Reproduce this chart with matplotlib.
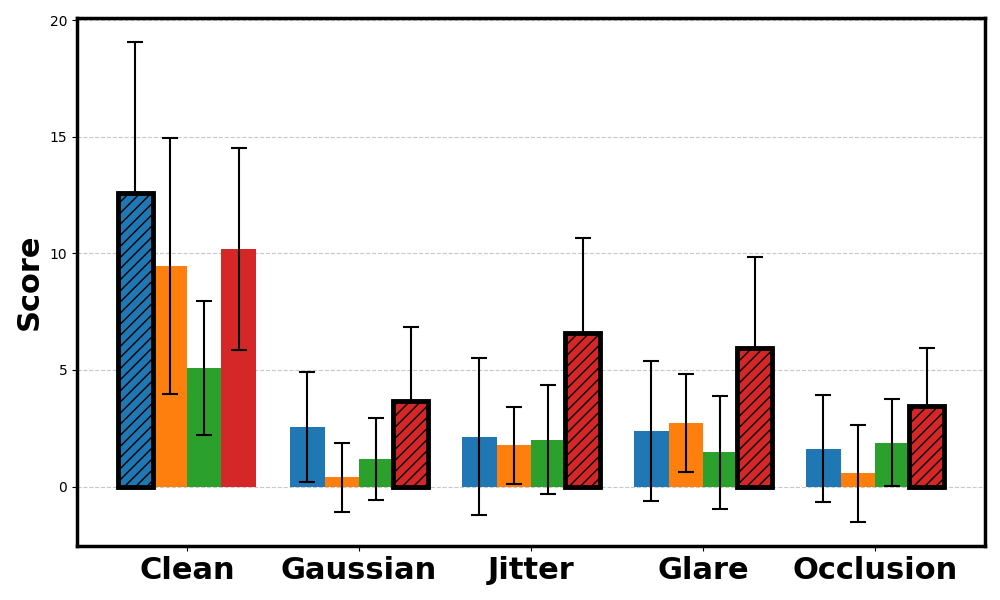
import numpy as np
import matplotlib
matplotlib.use('Agg')
import matplotlib.pyplot as plt

categories = ['Clean', 'Gaussian', 'Jitter', 'Glare', 'Occlusion']

# one list per method (bar colour), values per category
means = [
    [12.59, 2.57, 2.14, 2.40, 1.63],
    [9.46, 0.39, 1.76, 2.74, 0.56],
    [5.10, 1.20, 2.01, 1.46, 1.88],
    [10.19, 3.68, 6.60, 5.95, 3.47],
]
errs = [
    [6.47, 2.36, 3.38, 3.00, 2.29],
    [5.50, 1.48, 1.67, 2.10, 2.08],
    [2.87, 1.76, 2.35, 2.42, 1.86],
    [4.33, 3.17, 4.07, 3.90, 2.48],
]
colours = ['#1f77b4', '#ff7f0e', '#2ca02c', '#d62728']

fig, ax = plt.subplots(figsize=(10, 6), dpi=100)

x = np.arange(len(categories))
width = 0.2
means_arr = np.array(means)
best = means_arr.argmax(axis=0)

for i in range(len(means)):
    pos = x + (i - 1.5) * width
    bars = ax.bar(pos, means[i], width, color=colours[i], zorder=2)
    for j, b in enumerate(bars):
        if best[j] == i:
            # best bar per group: thick outline, hatched, on top of its error bar
            b.set_edgecolor('black')
            b.set_linewidth(3.5)
            b.set_hatch('///')
            b.set_zorder(4)
    ax.errorbar(pos, means[i], yerr=errs[i], fmt='none', ecolor='black',
                capsize=6, elinewidth=1.5, capthick=1.5, zorder=3)

ax.set_xticks(x)
ax.set_xticklabels(categories, fontsize=22, fontweight='bold')
ax.set_ylabel('Score', fontsize=22, fontweight='bold')
ax.tick_params(axis='y', labelsize=10)
ax.yaxis.grid(True, linestyle='--', color='#c8c8c8', linewidth=0.8)
ax.set_axisbelow(True)
for s in ax.spines.values():
    s.set_linewidth(2.5)

plt.rcParams['hatch.linewidth'] = 1.0
fig.subplots_adjust(left=0.077, right=0.985, top=0.97, bottom=0.09)
plt.savefig('out.png')
